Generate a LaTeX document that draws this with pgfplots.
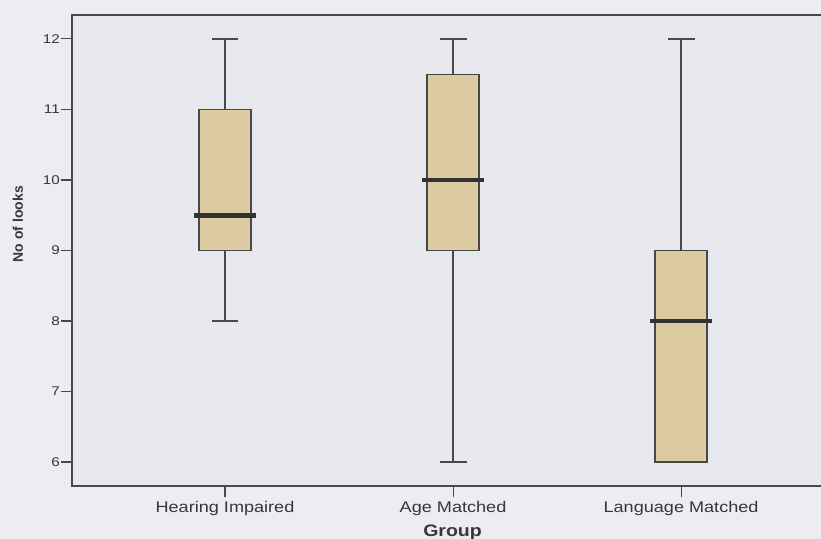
\documentclass[border=0pt]{standalone}
\usepackage{fontspec}
\setmainfont{Liberation Sans}
\usepackage{pgfplots}
\pgfplotsset{compat=1.18}
\usepgfplotslibrary{statistics}
\definecolor{pagebg}{RGB}{236,236,241}
\definecolor{plotbg}{RGB}{231,231,238}
\definecolor{boxfill}{RGB}{220,203,160}
\definecolor{linec}{RGB}{72,72,72}
\definecolor{textc}{RGB}{55,55,55}
\begin{document}
\begin{tikzpicture}
\fill[pagebg] (-54pt,-39.75pt) rectangle (561.75pt,364.5pt);
\begin{axis}[
  at={(0,0)}, anchor=south west,
  scale only axis,
  width=572.25pt, height=353.25pt,
  xmin=-0.671, xmax=2.675,
  ymin=5.66, ymax=12.34,
  axis background/.style={fill=plotbg},
  axis line style={draw=linec, line width=0.8pt},
  tick style={draw=linec, line width=0.8pt},
  tick align=outside,
  major tick length=8pt,
  /pgf/number format/assume math mode=true,
  xtick={0,1,2},
  xticklabels={\scalebox{1.17}[1]{Hearing Impaired},\scalebox{1.17}[1]{Age Matched},\scalebox{1.17}[1]{Language Matched}},
  xticklabel style={font=\fontsize{11.6}{13}\selectfont, text=textc},
  ytick={6,7,8,9,10,11,12},
  yticklabel={\scalebox{1.2}[1]{\pgfmathprintnumber{\tick}}},
  yticklabel style={font=\fontsize{9.5}{11}\selectfont, text=textc, inner sep=1pt},
  xtick pos=bottom, ytick pos=left,
  xlabel={\scalebox{1.17}[1]{\textbf{Group}}},
  ylabel={\textbf{No of looks}},
  every axis x label/.style={at={(axis description cs:0.4987,-0.107)}, anchor=base, font=\fontsize{12.5}{14}\selectfont, text=textc},
  every axis y label/.style={at={(axis description cs:-0.0708,0.556)}, rotate=90, anchor=center, font=\fontsize{10.5}{12}\selectfont, text=textc},
  boxplot/draw direction=y,
  boxplot/box extend=0.228,
  boxplot/whisker extend=0.118,
  boxplot/every median/.style={draw=black!80, line width=3.5pt, shorten <=-3.5pt, shorten >=-3.5pt},
]
\addplot[draw=linec, fill=boxfill, line width=1pt, boxplot prepared={draw position=0, lower whisker=8, lower quartile=9, median=9.5, upper quartile=11, upper whisker=12}] coordinates {};
\addplot[draw=linec, fill=boxfill, line width=1pt, boxplot prepared={draw position=1, lower whisker=6, lower quartile=9, median=10, upper quartile=11.5, upper whisker=12}] coordinates {};
\addplot[draw=linec, fill=boxfill, line width=1pt, boxplot prepared={draw position=2, lower whisker=6, lower quartile=6, median=8, upper quartile=9, upper whisker=12}] coordinates {};
\end{axis}
\pgfresetboundingbox
\useasboundingbox (-54pt,-39.75pt) rectangle (561.75pt,364.5pt);
\end{tikzpicture}
\end{document}
